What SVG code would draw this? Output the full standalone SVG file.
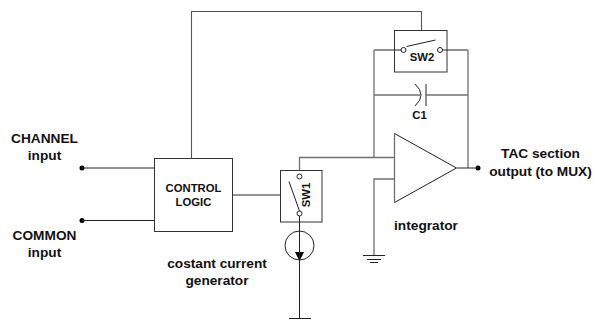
<svg xmlns="http://www.w3.org/2000/svg" width="595" height="321" viewBox="0 0 595 321">
<style>
text{font-family:"Liberation Sans",Arial,sans-serif;font-weight:700;fill:#111;text-anchor:middle}
.l{font-size:13.700px}.s{font-size:11.300px}
.b{fill:#fff;stroke:#333;stroke-width:1}
.g{fill:none;stroke:#707070;stroke-width:1.300}
.k{fill:none;stroke:#222;stroke-width:1}
.o{fill:#fff;stroke:#222;stroke-width:1}
.d{fill:#000}
</style>
<rect width="595" height="321" fill="#fff"/>
<g id="channel-input"><circle class="d" cx="82" cy="168" r="2.500"/><text class="l" x="44.500" y="142.500">CHANNEL</text><text class="l" x="44.500" y="160">input</text></g>
<g id="common-input"><circle class="d" cx="82" cy="220.500" r="2.500"/><text class="l" x="44.500" y="240">COMMON</text><text class="l" x="44.500" y="257">input</text></g>
<g id="control-logic"><rect class="b" x="154.500" y="158.500" width="78" height="73"/><text class="s" x="193.500" y="192">CONTROL</text><text class="s" x="193.500" y="206">LOGIC</text></g>
<g id="sw1"><rect class="b" x="280.500" y="170.500" width="41.500" height="51.500"/><path class="k" d="M289 181.500L299.500 211"/><circle class="o" cx="299.500" cy="176.500" r="2.500"/><circle class="o" cx="299.500" cy="213.500" r="2.500"/><text class="s" transform="translate(310 195) rotate(-90)">SW1</text></g>
<g id="current-generator"><circle class="k" cx="299.500" cy="245.500" r="14.500"/><path class="d" d="M295 252H304L299.500 261Z"/><text class="l" x="217" y="268">costant current</text><text class="l" x="217" y="285">generator</text></g>
<g id="sw2"><rect class="b" x="394.500" y="30.500" width="52.500" height="41.500"/><path class="k" d="M406.500 46.500L435.500 40"/><circle class="o" cx="403.500" cy="50" r="2.500"/><circle class="o" cx="440" cy="50" r="2.500"/><text class="s" x="422" y="61">SW2</text></g>
<g id="c1"><path class="k" d="M415 84Q427 95 415 106"/><path class="k" d="M426 84V106"/><text class="s" x="419.500" y="118.500">C1</text></g>
<g id="integrator"><path d="M394.500 133.500V202.500L456.500 168Z" fill="#fff" stroke="#222" stroke-width="1"/><path class="g" d="M394.500 133.500V202.500"/><circle class="d" cx="478" cy="168" r="2.500"/><text class="l" x="426" y="230">integrator</text></g>
<g id="output"><text class="l" x="540.500" y="158">TAC section</text><text class="l" x="540.500" y="175.500">output (to MUX)</text></g>
<g id="connectors">
<path class="g" style="stroke:#555;stroke-width:1.100" d="M191.500 158V11.500H421.500V30"/>
<path class="k" d="M82 168H154M82 220.500H154"/>
<path class="g" d="M233 195H280"/>
<path class="k" d="M374 50H401M442.500 50H468"/>
<path class="g" d="M374 50V157.500M468 50V168"/>
<path class="g" d="M374 95H420M426 95H468"/>
<path class="g" d="M299.500 170V157.500H394"/>
<path class="g" d="M394 179H374V256"/>
<path class="k" d="M457 168H478"/>
<path class="k" d="M299.500 216V318"/>
<path class="k" d="M289 318.500H311"/>
<path class="k" d="M363 255.500H385M367 259.500H381M370 262.500H378"/>
</g>
</svg>
